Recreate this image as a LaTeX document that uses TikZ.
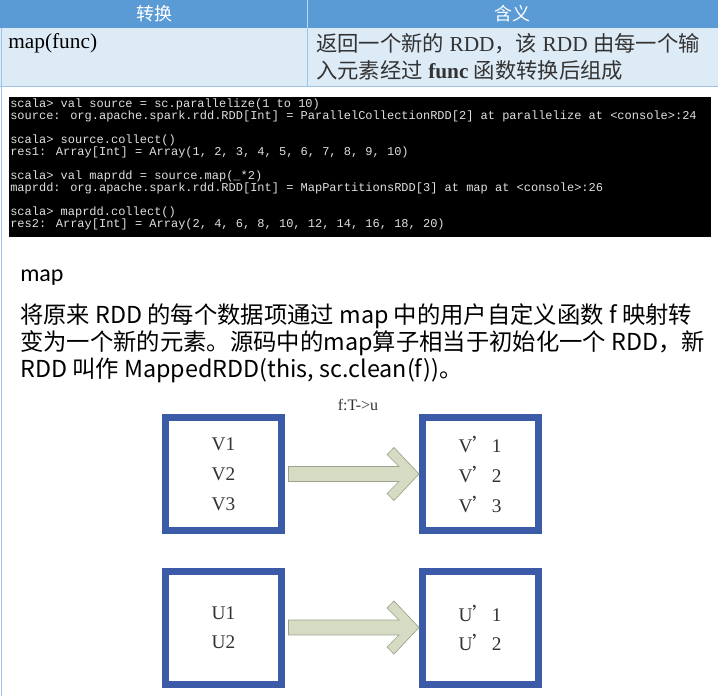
\documentclass[tikz,border=0pt]{standalone}
\usepackage{fontspec}
\setmainfont{Liberation Serif}
\newfontfamily\cjk{Noto Sans CJK SC}
\newfontfamily\codefont{Liberation Mono}
\newfontfamily\headfont{Carlito}
\newcommand\consolefont{\codefont\fontsize{9}{9}\selectfont
  \fontdimen2\font=5.4pt\relax\fontdimen3\font=0pt\relax\fontdimen4\font=0pt\relax}
\usetikzlibrary{positioning,calc}
\definecolor{headblue}{HTML}{5B9BD5}
\definecolor{rowblue}{HTML}{DDEBF7}
\definecolor{gridblue}{HTML}{9DC3E6}
\definecolor{boxblue}{HTML}{3B5BA9}
\definecolor{arrowfill}{HTML}{D6DCC3}
\definecolor{arrowline}{HTML}{9BA38A}
\definecolor{txtgray}{HTML}{333333}
\begin{document}
\begin{tikzpicture}[x=0.75pt,y=-0.75pt,
  rddbox/.style={draw=boxblue, line width=5.25pt, fill=white, minimum width=87pt,
    minimum height=84.75pt, align=center, text=txtgray},
  flow/.style={fill=arrowfill, draw=arrowline, line width=0.5pt},
  headcell/.style={text=white, font=\cjk\fontsize{13.5}{16}\selectfont}]
\useasboundingbox (0,0) rectangle (718,696);
% table
\fill[headblue] (0,0) rectangle (718,28);
\fill[rowblue] (0,28) rectangle (718,86);
\draw[white!60!headblue] (307,0) -- (307,28);
\draw[gridblue] (307,28) -- (307,86);
\draw[gridblue] (0,86) -- (718,86);
\draw[gridblue] (1,28) -- (1,696);
\node[headcell] (h1) at (154,14) {转换};
\node[headcell] (h2) at (512,14) {含义};
\node[anchor=west, inner sep=0pt, font=\fontsize{16}{20}\selectfont] (c1) at (8,43) {map(func)};
\node[anchor=west, inner sep=0pt, align=left, text=txtgray,
  font=\fontsize{16}{20.25}\selectfont] (c2) at (316,57)
  {{\cjk 返回一个新的} RDD{\cjk ，该} RDD {\cjk 由每一个输}\\
   {\cjk 入元素经过} \textbf{func} {\cjk 函数转换后组成}};
% console
\fill[black] (9,97) rectangle (711,237);
\node[anchor=north west, inner sep=0pt, align=left, text=white!88!black,
  font=\consolefont] (code) at (10,99)
  {scala> val source = sc.parallelize(1 to 10)\\
   source: org.apache.spark.rdd.RDD[Int] = ParallelCollectionRDD[2] at parallelize at <console>:24\\[9pt]
   scala> source.collect()\\
   res1: Array[Int] = Array(1, 2, 3, 4, 5, 6, 7, 8, 9, 10)\\[9pt]
   scala> val maprdd = source.map(\_*2)\\
   maprdd: org.apache.spark.rdd.RDD[Int] = MapPartitionsRDD[3] at map at <console>:26\\[9pt]
   scala> maprdd.collect()\\
   res2: Array[Int] = Array(2, 4, 6, 8, 10, 12, 14, 16, 18, 20)};
% text
\node[anchor=base west, inner sep=0pt, font=\headfont\fontsize{18}{20}\selectfont] (title) at (20,281) {map};
\node[anchor=north west, inner sep=0pt, align=left,
  font=\cjk\fontsize{17.5}{20.6}\selectfont] (desc) at (20,303)
  {将原来 RDD 的每个数据项通过 map 中的用户自定义函数 f 映射转\\
   变为一个新的元素。源码中的map算子相当于初始化一个 RDD，新\\
   RDD 叫作 MappedRDD(this, sc.clean(f))。};
% mapping
\node[text=txtgray, font=\fontsize{12}{14}\selectfont] (fn) at (358,405) {f:T->u};
\node[rddbox, font=\fontsize{14.5}{22.5}\selectfont] (v) at (223.5,474) {V1\\V2\\V3};
\node[rddbox, font=\fontsize{14.5}{22.5}\selectfont] (vp) at (480,474)
  {V{\cjk ’}1\\V{\cjk ’}2\\V{\cjk ’}3};
\node[rddbox, font=\fontsize{14.5}{21.75}\selectfont] (u) at (223.5,627.5) {U1\\U2};
\node[rddbox, font=\fontsize{14.5}{21.75}\selectfont] (up) at (480,627.5)
  {U{\cjk ’}1\\U{\cjk ’}2};
\draw[flow] let \p1=(v.east), \p2=(vp.west) in
  (\x1+2.6pt,\y1+5.6pt) -- (\x2-14.6pt,\y1+5.6pt) -- (\x2-23.6pt,\y1+14.6pt)
  -- (\x2-18.4pt,\y1+19.9pt) -- (\x2+0.4pt,\y1) -- (\x2-18.4pt,\y1-19.9pt)
  -- (\x2-23.6pt,\y1-14.6pt) -- (\x2-14.6pt,\y1-5.6pt) -- (\x1+2.6pt,\y1-5.6pt) -- cycle;
\draw[flow] let \p1=(u.east), \p2=(up.west) in
  (\x1+2.6pt,\y1+5.6pt) -- (\x2-14.6pt,\y1+5.6pt) -- (\x2-23.6pt,\y1+14.6pt)
  -- (\x2-18.4pt,\y1+19.9pt) -- (\x2+0.4pt,\y1) -- (\x2-18.4pt,\y1-19.9pt)
  -- (\x2-23.6pt,\y1-14.6pt) -- (\x2-14.6pt,\y1-5.6pt) -- (\x1+2.6pt,\y1-5.6pt) -- cycle;
\end{tikzpicture}
\end{document}
